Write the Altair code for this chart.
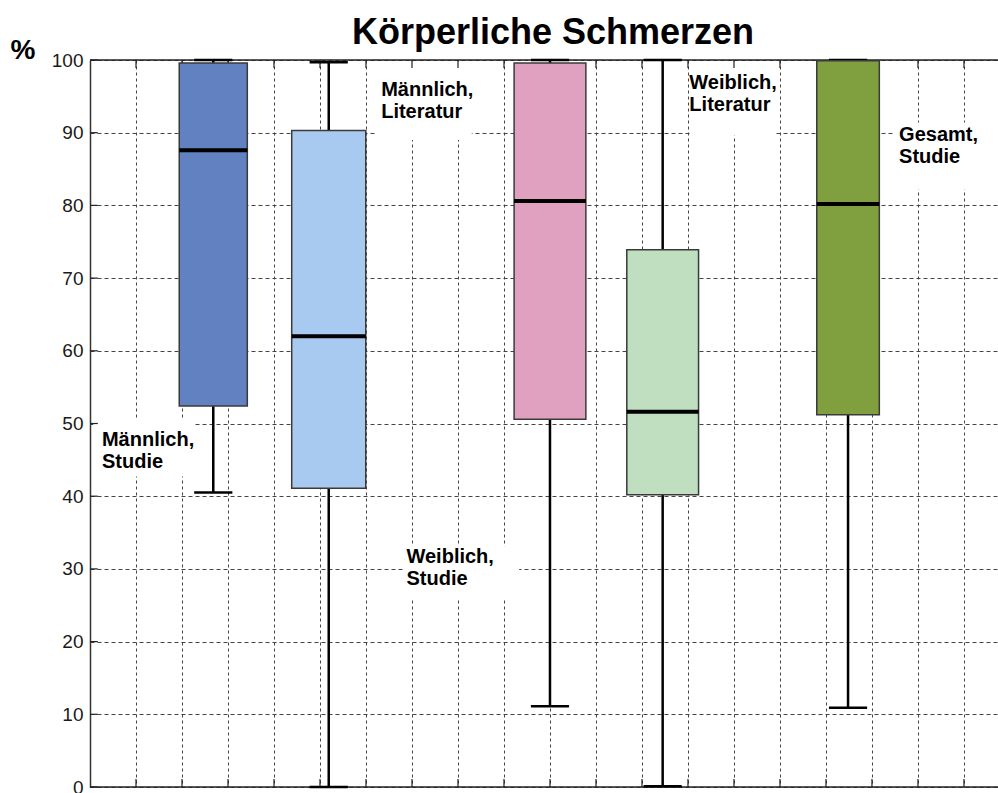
import altair as alt
import pandas as pd

# Boxplot statistics (percent) per group
groups = ["Männlich, Studie", "Männlich, Literatur", "Weiblich, Studie",
          "Weiblich, Literatur", "Gesamt, Studie"]
w_low = [40.5, 0.0, 11.1, 0.1, 10.9]
q1 = [52.4, 41.1, 50.6, 40.2, 51.2]
median = [87.6, 62.0, 80.6, 51.6, 80.2]
q3 = [99.6, 90.3, 99.6, 73.9, 99.9]
w_high = [100.0, 99.7, 100.0, 100.0, 100.0]

# Horizontal placement of the boxes on a 0..19.74 grid axis
centers = [2.68, 5.19, 10.0, 12.45, 16.48]
box_widths = [1.48, 1.61, 1.56, 1.56, 1.36]
cap_width = 0.83
colors = ["#6281C0", "#A8CAF0", "#E0A0C0", "#C0DEC0", "#80A040"]

# Group labels placed inside the plot (x, first-line baseline y, background extent)
label_text = ["Männlich,\nStudie", "Männlich,\nLiteratur", "Weiblich,\nStudie",
              "Weiblich,\nLiteratur", "Gesamt,\nStudie"]
label_x = [0.26, 6.33, 6.88, 13.03, 17.59]
label_y = [46.9, 95.0, 30.8, 96.0, 88.85]
bg_x0 = [0.07, 6.2, 6.85, 13.07, 17.5]
bg_x1 = [2.28, 8.3, 9.33, 14.89, 19.74]
bg_y0 = [42.7, 89.0, 26.0, 89.6, 82.2]
bg_y1 = [50.7, 99.8, 33.1, 99.8, 91.4]

X_MAX = 19.74
x_grid = list(range(1, 20))
y_grid = list(range(0, 101, 10))

box = pd.DataFrame({
    "group": groups, "low": w_low, "q1": q1, "median": median, "q3": q3,
    "high": w_high, "c": centers, "w": box_widths,
})
box["left"] = box["c"] - box["w"] / 2
box["right"] = box["c"] + box["w"] / 2
box["cap_l"] = box["c"] - cap_width / 2
box["cap_r"] = box["c"] + cap_width / 2

labels = pd.DataFrame({"text": label_text, "x": label_x, "y": label_y,
                       "x0": bg_x0, "x1": bg_x1, "y0": bg_y0, "y1": bg_y1})

xs = alt.Scale(domain=[0, X_MAX], nice=False, zero=False)
ys = alt.Scale(domain=[0, 100], nice=False)

xaxis = alt.Axis(values=x_grid, labels=False, ticks=False, domain=False,
                 grid=True, gridDash=[3, 3], gridColor="#444444", gridWidth=1,
                 title=None)
yaxis = alt.Axis(values=y_grid, ticks=False, domain=True, domainColor="#333333",
                 domainWidth=1.5, grid=True, gridDash=[4, 3], gridColor="#444444",
                 gridWidth=1, labelFont="Liberation Sans", labelFontSize=19,
                 labelColor="#1a1a1a", labelPadding=7, labelFlush=False,
                 title="%", titleAngle=0, titleX=-80, titleY=-2, titleAlign="left",
                 titleBaseline="alphabetic", titleFont="Liberation Sans",
                 titleFontSize=28, titleFontWeight="bold", titleColor="black")


def X(field):
    return alt.X(field, type="quantitative", scale=xs, axis=xaxis)


def Y(field):
    return alt.Y(field, type="quantitative", scale=ys, axis=yaxis)


base_box = alt.Chart(box)
base_lab = alt.Chart(labels)

# White backgrounds behind the labels hide the grid
label_bg = base_lab.mark_rect(fill="white", stroke="white", strokeWidth=0).encode(
    x=X("x0"), x2="x1", y=Y("y0"), y2="y1")

# Inward tick marks along the frame
tick_df = pd.DataFrame({"v": x_grid})
xticks_bottom = alt.Chart(tick_df).transform_calculate(a="0", b="1.1").mark_rule(
    color="#222222", strokeWidth=1.2).encode(x=X("v"), y=Y("a:Q"), y2="b:Q")
xticks_top = alt.Chart(tick_df).transform_calculate(a="98.9", b="100").mark_rule(
    color="#222222", strokeWidth=1.2).encode(x=X("v"), y=Y("a:Q"), y2="b:Q")
ytick_df = pd.DataFrame({"v": y_grid})
yticks = alt.Chart(ytick_df).transform_calculate(a="0", b="0.17").mark_rule(
    color="#222222", strokeWidth=1.2).encode(y=Y("v"), x=X("a:Q"), x2="b:Q")

# Top and bottom frame lines
frame = alt.Chart(pd.DataFrame({"v": [0, 100]})).mark_rule(
    color="#222222", strokeWidth=1.5).encode(y=Y("v"))

whisk_up = base_box.mark_rule(color="black", strokeWidth=2.5).encode(
    x=X("c"), y=Y("q3"), y2="high")
whisk_lo = base_box.mark_rule(color="black", strokeWidth=2.5).encode(
    x=X("c"), y=Y("low"), y2="q1")
cap_hi = base_box.mark_rule(color="black", strokeWidth=2.5).encode(
    x=X("cap_l"), x2="cap_r", y=Y("high"))
cap_lo = base_box.mark_rule(color="black", strokeWidth=2.5).encode(
    x=X("cap_l"), x2="cap_r", y=Y("low"))

boxes = base_box.mark_rect(stroke="#3a3a3a", strokeWidth=1.5).encode(
    x=X("left"), x2="right", y=Y("q1"), y2="q3",
    fill=alt.Fill("group:N", scale=alt.Scale(domain=groups, range=colors),
                  legend=None))

medians = base_box.mark_rule(color="black", strokeWidth=4).encode(
    x=X("left"), x2="right", y=Y("median"))

texts = base_lab.mark_text(align="left", baseline="alphabetic", lineBreak="\n",
                           lineHeight=21.5, font="Liberation Sans", fontSize=20,
                           fontWeight="bold", color="black").encode(
    x=X("x"), y=Y("y"), text="text:N")

chart = alt.layer(
    label_bg, xticks_bottom, xticks_top, yticks, frame,
    whisk_up, whisk_lo, cap_hi, cap_lo, boxes, medians, texts,
).properties(
    width=908, height=727,
    padding={"left": 90, "top": 60, "right": 0, "bottom": 6},
    autosize=alt.AutoSizeParams(type="none"),
    title=alt.TitleParams("Körperliche Schmerzen", font="Liberation Sans",
                          fontSize=36, fontWeight="bold", color="black",
                          anchor="middle", dx=9, dy=61, offset=17,
                          baseline="alphabetic"),
).configure_view(stroke="transparent").configure(background="white")

chart.save("out.html", embed_options={"renderer": "svg", "actions": False})
